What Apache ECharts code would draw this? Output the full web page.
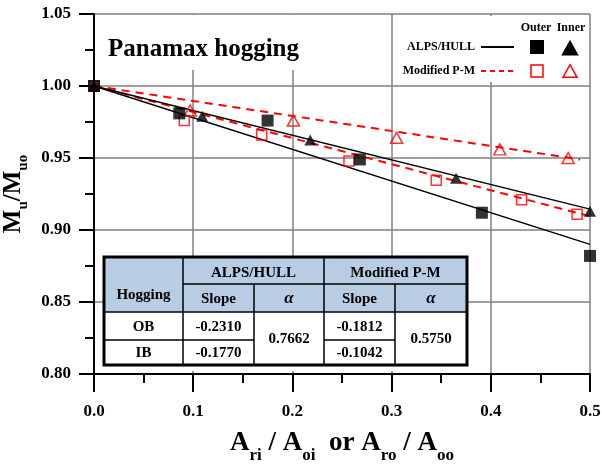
<!DOCTYPE html>
<html>
<head>
<meta charset="utf-8">
<script src="https://cdn.jsdelivr.net/npm/echarts@6/dist/echarts.min.js"></script>
<style>html,body{margin:0;padding:0;background:#fff;}#c{width:602px;height:465px;}</style>
</head>
<body>
<div id="c"></div>
<script>
// ---- data ----
const alpsOuter = [[0,1.0],[0.086,0.981],[0.175,0.976],[0.268,0.949],[0.391,0.912],[0.5,0.882]];
const alpsInner = [[0,1.0],[0.109,0.979],[0.218,0.9625],[0.365,0.936],[0.5,0.913]];
const pmOuter   = [[0,1.0],[0.091,0.976],[0.169,0.966],[0.257,0.948],[0.345,0.9345],[0.431,0.921],[0.487,0.911]];
const pmInner   = [[0.097,0.983],[0.201,0.976],[0.305,0.964],[0.409,0.956],[0.478,0.950]];
const alpsOuterFit = [[0,1.0],[0.5,0.890]];
const alpsInnerFit = [[0,1.0],[0.5,0.9145]];
const pmOuterFit   = [[0,1.0],[0.5,0.9095]];
const pmInnerFit   = [[0,1.0],[0.49,0.949]];

const xMin = 0, xMax = 0.5, xStep = 0.1;
const yMin = 0.80, yMax = 1.05, yStep = 0.05;

const titleText = 'Panamax hogging';
const legendCols = ['Outer', 'Inner'];
const legendRows = ['ALPS/HULL', 'Modified P-M'];

const tableCorner = 'Hogging';
const tableGroups = ['ALPS/HULL', 'Modified P-M'];
const tableSub = ['Slope', 'α', 'Slope', 'α'];
const tableRows = ['OB', 'IB'];
const alpsSlopes = ['-0.2310', '-0.1770'];
const alpsAlpha = '0.7662';
const pmSlopes = ['-0.1812', '-0.1042'];
const pmAlpha = '0.5750';

// ---- styles ----
const SERIF = '"Liberation Serif","Times New Roman",serif';
const RED = '#ff0000';

const chart = echarts.init(document.getElementById('c'), null, {renderer: 'canvas'});

function txt(x, y, text, size, opts) {
  opts = opts || {};
  return {
    type: 'text', z: 10,
    style: {
      x: x, y: y, text: text,
      font: (opts.italic ? 'italic ' : '') + 'bold ' + size + 'px ' + (opts.family || SERIF),
      fill: opts.fill || '#000',
      align: opts.align || 'center',
      verticalAlign: 'middle'
    }
  };
}
function line(x1, y1, x2, y2, w, opts) {
  opts = opts || {};
  return {
    type: 'line', z: 10,
    shape: {x1: x1, y1: y1, x2: x2, y2: y2},
    style: {stroke: opts.stroke || '#000', lineWidth: w, lineDash: opts.dash || null}
  };
}
function rect(x, y, w, h, fill, z) {
  return {type: 'rect', z: z || 5, shape: {x: x, y: y, width: w, height: h}, style: {fill: fill}};
}
function tri(cx, cy, s, fill, stroke) {
  const h = s * 0.9;
  return {
    type: 'polygon', z: 11,
    shape: {points: [[cx, cy - h/2], [cx + s/2, cy + h/2], [cx - s/2, cy + h/2]]},
    style: {fill: fill, stroke: stroke, lineWidth: 1.5}
  };
}

const g = [];
// title
g.push(rect(97, 15, 290, 55, '#fff', 5));
g.push(txt(108, 49.5, titleText, 25, {align: 'left'}));
// legend
g.push(rect(394, 16, 195, 66, '#fff', 5));
g.push(txt(536, 28, legendCols[0], 12));
g.push(txt(571, 28, legendCols[1], 12));
g.push(txt(475, 47, legendRows[0], 12, {align: 'right'}));
g.push(txt(475, 71, legendRows[1], 12, {align: 'right'}));
g.push(line(481, 47, 514, 47, 2));
g.push(line(481, 71, 514, 71, 2, {stroke: RED, dash: [5, 4]}));
g.push({type: 'rect', z: 11, shape: {x: 530, y: 40, width: 14, height: 14}, style: {fill: '#000'}});
g.push(tri(570, 48, 15, '#000', '#000'));
g.push({type: 'rect', z: 11, shape: {x: 531, y: 65, width: 12, height: 12}, style: {fill: 'none', stroke: RED, lineWidth: 1.5}});
g.push(tri(570, 71, 14, 'none', RED));

// table
const cx = [104, 183, 254, 324, 395, 467];
const ry = [257, 284, 312, 340, 365];
g.push(rect(cx[0], ry[0], cx[5] - cx[0], 371 - ry[0], '#fff', 5));
g.push(rect(cx[0], ry[0], cx[5] - cx[0], ry[2] - ry[0], '#b8cce4', 6));
// inner lines
g.push(line(cx[1], ry[0], cx[1], ry[4], 1.5));
g.push(line(cx[2], ry[1], cx[2], ry[4], 1.5));
g.push(line(cx[3], ry[0], cx[3], ry[4], 1.5));
g.push(line(cx[4], ry[1], cx[4], ry[4], 1.5));
g.push(line(cx[1], ry[1], cx[5], ry[1], 1.5));
g.push(line(cx[0], ry[2], cx[5], ry[2], 1.5));
g.push(line(cx[0], ry[3], cx[2], ry[3], 1.5));
g.push(line(cx[3], ry[3], cx[4], ry[3], 1.5));
g.push({type: 'rect', z: 12, shape: {x: cx[0], y: ry[0], width: cx[5] - cx[0], height: ry[4] - ry[0]},
        style: {fill: 'none', stroke: '#000', lineWidth: 3}});
const TF = 15;
g.push(txt((cx[0] + cx[1]) / 2, 295, tableCorner, TF));
g.push(txt((cx[1] + cx[3]) / 2, 273, tableGroups[0], TF));
g.push(txt((cx[3] + cx[5]) / 2, 273, tableGroups[1], TF));
for (let i = 0; i < 4; i++) {
  const isAlpha = tableSub[i] === 'α';
  g.push(txt((cx[i + 1] + cx[i + 2]) / 2, 299, tableSub[i], isAlpha ? 17 : TF, {italic: isAlpha}));
}
for (let r = 0; r < 2; r++) {
  const y = (ry[r + 2] + ry[r + 3]) / 2 + 1;
  g.push(txt((cx[0] + cx[1]) / 2, y, tableRows[r], TF));
  g.push(txt((cx[1] + cx[2]) / 2, y, alpsSlopes[r], TF));
  g.push(txt((cx[3] + cx[4]) / 2, y, pmSlopes[r], TF));
}
g.push(txt((cx[2] + cx[3]) / 2, (ry[2] + ry[4]) / 2 + 1, alpsAlpha, TF));
g.push(txt((cx[4] + cx[5]) / 2, (ry[2] + ry[4]) / 2 + 1, pmAlpha, TF));

const axisLabelStyle = {color: '#000', fontFamily: SERIF, fontWeight: 'bold', fontSize: 17};

const option = {
  animation: false,
  backgroundColor: '#fff',
  grid: {left: 94, right: 12, top: 14, bottom: 91, containLabel: false, outerBoundsMode: 'none'},
  xAxis: {
    type: 'value', min: xMin, max: xMax, interval: xStep,
    axisLine: {show: true, onZero: false, lineStyle: {color: '#000', width: 2}},
    axisTick: {show: true, inside: false, length: 18, lineStyle: {color: '#000', width: 2}},
    minorTick: {show: true, splitNumber: 2, length: 9, lineStyle: {color: '#000', width: 2}},
    splitLine: {show: true, lineStyle: {color: '#808080', width: 1.5}},
    axisLabel: Object.assign({margin: 29, formatter: v => v.toFixed(1)}, axisLabelStyle),
    name: '{a|A}{s|ri}{a| / A}{s|oi}{a|  or A}{s|ro}{a| / A}{s|oo}',
    nameLocation: 'middle', nameGap: 56,
    nameTextStyle: {
      rich: {
        a: {fontFamily: SERIF, fontWeight: 'bold', fontSize: 27, color: '#000', lineHeight: 27, verticalAlign: 'top'},
        s: {fontFamily: SERIF, fontWeight: 'bold', fontSize: 17, color: '#000', lineHeight: 34, verticalAlign: 'bottom'}
      }
    }
  },
  yAxis: {
    type: 'value', min: yMin, max: yMax, interval: yStep,
    axisLine: {show: true, onZero: false, lineStyle: {color: '#000', width: 2}},
    axisTick: {show: true, inside: false, length: 15, lineStyle: {color: '#000', width: 2}},
    minorTick: {show: true, splitNumber: 2, length: 9, lineStyle: {color: '#000', width: 2}},
    splitLine: {show: true, lineStyle: {color: '#808080', width: 1.5}},
    axisLabel: Object.assign({margin: 23, formatter: v => v.toFixed(2)}, axisLabelStyle),
    name: '{a|M}{s|u}{a|/M}{s|uo}',
    nameLocation: 'middle', nameGap: 53, nameRotate: 90,
    nameTextStyle: {
      rich: {
        a: {fontFamily: SERIF, fontWeight: 'bold', fontSize: 25, color: '#000', lineHeight: 25, verticalAlign: 'top'},
        s: {fontFamily: SERIF, fontWeight: 'bold', fontSize: 15, color: '#000', lineHeight: 29, verticalAlign: 'bottom'}
      }
    }
  },
  graphic: {elements: g},
  series: [
    {type: 'line', data: pmOuterFit, symbol: 'none', z: 3, lineStyle: {color: RED, width: 2, type: [8, 6]}},
    {type: 'line', data: pmInnerFit, symbol: 'none', z: 3, lineStyle: {color: RED, width: 2, type: [8, 6]}},
    {type: 'line', data: alpsOuterFit, symbol: 'none', z: 3, lineStyle: {color: '#000', width: 1.5}},
    {type: 'line', data: alpsInnerFit, symbol: 'none', z: 3, lineStyle: {color: '#000', width: 1.5}},
    {type: 'scatter', data: pmOuter, symbol: 'rect', symbolSize: 10, z: 4,
     itemStyle: {color: 'none', borderColor: RED, borderWidth: 1.5}},
    {type: 'scatter', data: pmInner, symbol: 'triangle', symbolSize: [12, 11], z: 4,
     itemStyle: {color: 'none', borderColor: RED, borderWidth: 1.5}},
    {type: 'scatter', data: alpsInner, symbol: 'triangle', symbolSize: [12, 11], z: 4,
     itemStyle: {color: '#000'}},
    {type: 'scatter', data: alpsOuter, symbol: 'rect', symbolSize: 12, z: 4,
     itemStyle: {color: '#000'}}
  ]
};
chart.setOption(option);
</script>
</body>
</html>
